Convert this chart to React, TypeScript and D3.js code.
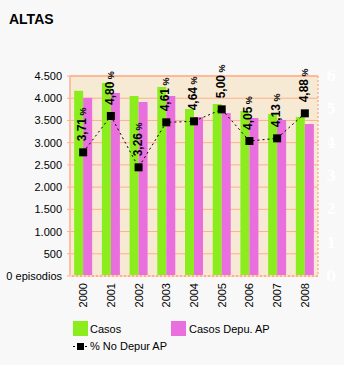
import React, { useEffect } from "react";
import * as d3 from "d3";

const years = ["2000", "2001", "2002", "2003", "2004", "2005", "2006", "2007", "2008"];
const casos = [4167, 4343, 4050, 4253, 3758, 3870, 3713, 3645, 3578];
const casosDepu = [4009, 4118, 3915, 4050, 3578, 3668, 3555, 3510, 3420];
const pctNoDepur = [3.71, 4.8, 3.26, 4.61, 4.64, 5.0, 4.05, 4.13, 4.88];
const leftTicks = [0, 500, 1000, 1500, 2000, 2500, 3000, 3500, 4000, 4500];
const rightTicks = [0, 1, 2, 3, 4, 5, 6];

const W = 344, H = 365;
const L = 70, R = 318, T = 76, B = 276;
const GREEN = "#8ced1e";
const PINK = "#e86fdd";
const PLOTBG = "#f7ead5";
const GRID = "#ffb08a";
const FONT = "'Liberation Sans', Arial, sans-serif";

export default function App() {
  useEffect(() => {
    document.body.style.margin = "0";
  }, []);
  const x = d3.scaleBand().domain(years).range([L, R]).paddingInner(0.35).paddingOuter(0.15);
  const x1 = d3.scaleBand().domain(["c", "d"]).range([0, x.bandwidth()]);
  const y = d3.scaleLinear().domain([0, 4500]).range([B, T]);
  const y2 = d3.scaleLinear().domain([0, 6]).range([B, T]);
  const fmtL = (v: number) => (v === 0 ? "0 episodios" : d3.format(",")(v).replace(",", "."));
  const cx = (yr: string) => (x(yr) as number) + x.bandwidth() / 2;
  const line = d3.line<number>().x((_, i) => cx(years[i])).y((d) => y2(d));
  return (
    <svg width={W} height={H} style={{ display: "block", background: "#f8f8f8" }} fontFamily={FONT}>
      <rect x={0} y={0} width={W} height={H} fill="#f8f8f8" />
      <text x={9} y={24} fontSize={14} fontWeight="bold" fill="#000">ALTAS</text>
      <rect x={L} y={T} width={R - L} height={B - T} fill={PLOTBG} />
      {leftTicks.map((t) => (
        <g key={t}>
          <line x1={L - 3} x2={R} y1={y(t)} y2={y(t)} stroke={GRID} strokeWidth={1} />
          <text x={62} y={y(t) + 4} fontSize={11} textAnchor="end" fill="#000">{fmtL(t)}</text>
        </g>
      ))}
      {rightTicks.map((t) => (
        <text key={t} x={331} y={y2(t) + 5} fontSize={14} fontWeight="bold" fontFamily="'DejaVu Serif', serif" textAnchor="middle" fill="#ffffff">{t}</text>
      ))}
      {years.map((yr, i) => (
        <g key={yr}>
          <rect x={(x(yr) as number) + (x1("c") as number)} y={y(casos[i])} width={x1.bandwidth()} height={B - y(casos[i])} fill={GREEN} />
          <rect x={(x(yr) as number) + (x1("d") as number)} y={y(casosDepu[i])} width={x1.bandwidth()} height={B - y(casosDepu[i])} fill={PINK} />
        </g>
      ))}
      <line x1={L} x2={L} y1={T} y2={B} stroke={GRID} strokeWidth={1.5} />
      <line x1={L} x2={R} y1={T} y2={T} stroke={GRID} strokeWidth={1.5} />
      <line x1={R} x2={R} y1={T} y2={B} stroke={GRID} strokeWidth={1.5} strokeDasharray="2,2" />
      <line x1={L} x2={R} y1={B} y2={B} stroke={GRID} strokeWidth={2} />
      <line x1={L} x2={R} y1={B} y2={B} stroke="#ffffff" strokeWidth={1} strokeDasharray="2,2" />
      <path d={line(pctNoDepur) || ""} fill="none" stroke="#000" strokeWidth={1} strokeDasharray="2,3" />
      {pctNoDepur.map((v, i) => (
        <rect key={i} x={cx(years[i]) - 4} y={y2(v) - 4} width={8} height={8} fill="#000" />
      ))}
      {pctNoDepur.map((v, i) => {
        const px = cx(years[i]) - 1;
        const py = y2(v) - 11;
        return (
          <text key={i} transform={`translate(${px + 4},${py}) rotate(-90)`} fontSize={12} fontWeight="bold" fill="#000">
            {d3.format(".2f")(v).replace(".", ",")}
            <tspan fontSize={9}> %</tspan>
          </text>
        );
      })}
      {years.map((yr) => (
        <text key={yr} transform={`translate(${cx(yr) + 4},${283}) rotate(-90)`} fontSize={11} textAnchor="end" fill="#000">{yr}</text>
      ))}
      <rect x={73} y={321} width={15} height={15} fill={GREEN} />
      <text x={90} y={333} fontSize={11} fill="#000">Casos</text>
      <rect x={171} y={321} width={15} height={15} fill={PINK} />
      <text x={189} y={333} fontSize={11} fill="#000">Casos Depu. AP</text>
      <line x1={73} x2={88} y1={346.5} y2={346.5} stroke="#000" strokeDasharray="2,2" />
      <rect x={77} y={343} width={7} height={7} fill="#000" />
      <text x={90} y={350} fontSize={11} fill="#000">% No Depur AP</text>
    </svg>
  );
}
